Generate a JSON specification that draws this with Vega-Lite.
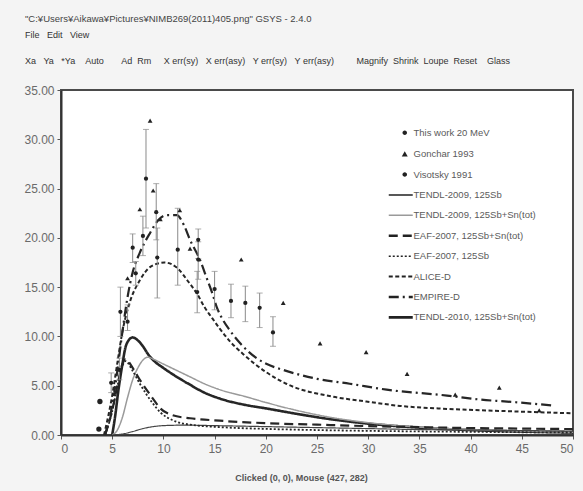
{
  "$schema": "https://vega.github.io/schema/vega-lite/v6.json",
  "autosize": {"type": "none"},
  "width": 512,
  "height": 345,
  "padding": {"left": 61, "top": 90, "right": 10, "bottom": 56},
  "background": "#f4f4f4",
  "title": {
    "text": "\"C:¥Users¥Aikawa¥Pictures¥NIMB269(2011)405.png\" GSYS - 2.4.0",
    "subtitle": ["File\u00a0\u00a0\u00a0Edit\u00a0\u00a0\u00a0View", "\u00a0Xa\u00a0\u00a0\u00a0Ya\u00a0\u00a0\u00a0*Ya\u00a0\u00a0\u00a0\u00a0Auto\u00a0\u00a0\u00a0\u00a0\u00a0\u00a0\u00a0Ad\u00a0\u00a0Rm\u00a0\u00a0\u00a0\u00a0\u00a0X err(sy)\u00a0\u00a0\u00a0X err(asy)\u00a0\u00a0\u00a0Y err(sy)\u00a0\u00a0\u00a0Y err(asy)\u00a0\u00a0\u00a0\u00a0\u00a0\u00a0\u00a0\u00a0\u00a0Magnify\u00a0\u00a0Shrink\u00a0\u00a0Loupe\u00a0\u00a0Reset\u00a0\u00a0\u00a0\u00a0Glass"],
    "anchor": "start",
    "frame": "group",
    "dx": -36,
    "offset": 18,
    "font": "Liberation Sans",
    "fontSize": 9.5,
    "fontWeight": "normal",
    "color": "#444",
    "subtitleFont": "Liberation Sans",
    "subtitleFontSize": 9,
    "subtitleColor": "#333",
    "subtitlePadding": 8,
    "subtitleLineHeight": 26
  },
  "datasets": {
    "curves": [
      {"series": "TENDL-2010, 125Sb+Sn(tot)", "x": 5.0, "y": 0},
      {"series": "TENDL-2010, 125Sb+Sn(tot)", "x": 5.3, "y": 2.0},
      {"series": "TENDL-2010, 125Sb+Sn(tot)", "x": 5.6, "y": 4.5},
      {"series": "TENDL-2010, 125Sb+Sn(tot)", "x": 6.0, "y": 7.2},
      {"series": "TENDL-2010, 125Sb+Sn(tot)", "x": 6.3, "y": 8.9},
      {"series": "TENDL-2010, 125Sb+Sn(tot)", "x": 6.6, "y": 9.6},
      {"series": "TENDL-2010, 125Sb+Sn(tot)", "x": 7.0, "y": 9.9},
      {"series": "TENDL-2010, 125Sb+Sn(tot)", "x": 7.5, "y": 9.6},
      {"series": "TENDL-2010, 125Sb+Sn(tot)", "x": 8.0, "y": 9.0},
      {"series": "TENDL-2010, 125Sb+Sn(tot)", "x": 8.5, "y": 8.2},
      {"series": "TENDL-2010, 125Sb+Sn(tot)", "x": 9.0, "y": 7.6},
      {"series": "TENDL-2010, 125Sb+Sn(tot)", "x": 10.0, "y": 6.8},
      {"series": "TENDL-2010, 125Sb+Sn(tot)", "x": 11.0, "y": 6.1},
      {"series": "TENDL-2010, 125Sb+Sn(tot)", "x": 12.6, "y": 5.1},
      {"series": "TENDL-2010, 125Sb+Sn(tot)", "x": 14.0, "y": 4.3},
      {"series": "TENDL-2010, 125Sb+Sn(tot)", "x": 15.5, "y": 3.7},
      {"series": "TENDL-2010, 125Sb+Sn(tot)", "x": 18.0, "y": 3.05},
      {"series": "TENDL-2010, 125Sb+Sn(tot)", "x": 20.0, "y": 2.7},
      {"series": "TENDL-2010, 125Sb+Sn(tot)", "x": 23.0, "y": 2.15},
      {"series": "TENDL-2010, 125Sb+Sn(tot)", "x": 26.0, "y": 1.65},
      {"series": "TENDL-2010, 125Sb+Sn(tot)", "x": 30.0, "y": 1.15},
      {"series": "TENDL-2010, 125Sb+Sn(tot)", "x": 35.0, "y": 0.75},
      {"series": "TENDL-2010, 125Sb+Sn(tot)", "x": 40.0, "y": 0.5},
      {"series": "TENDL-2010, 125Sb+Sn(tot)", "x": 45.0, "y": 0.35},
      {"series": "TENDL-2010, 125Sb+Sn(tot)", "x": 50.0, "y": 0.25},

      {"series": "TENDL-2009, 125Sb+Sn(tot)", "x": 5.0, "y": 0},
      {"series": "TENDL-2009, 125Sb+Sn(tot)", "x": 5.5, "y": 0.5},
      {"series": "TENDL-2009, 125Sb+Sn(tot)", "x": 6.0, "y": 1.8},
      {"series": "TENDL-2009, 125Sb+Sn(tot)", "x": 6.5, "y": 3.8},
      {"series": "TENDL-2009, 125Sb+Sn(tot)", "x": 7.0, "y": 5.6},
      {"series": "TENDL-2009, 125Sb+Sn(tot)", "x": 7.5, "y": 6.8},
      {"series": "TENDL-2009, 125Sb+Sn(tot)", "x": 8.0, "y": 7.6},
      {"series": "TENDL-2009, 125Sb+Sn(tot)", "x": 8.5, "y": 7.9},
      {"series": "TENDL-2009, 125Sb+Sn(tot)", "x": 9.0, "y": 7.7},
      {"series": "TENDL-2009, 125Sb+Sn(tot)", "x": 10.0, "y": 7.2},
      {"series": "TENDL-2009, 125Sb+Sn(tot)", "x": 11.0, "y": 6.7},
      {"series": "TENDL-2009, 125Sb+Sn(tot)", "x": 12.6, "y": 5.9},
      {"series": "TENDL-2009, 125Sb+Sn(tot)", "x": 14.0, "y": 5.2},
      {"series": "TENDL-2009, 125Sb+Sn(tot)", "x": 15.5, "y": 4.6},
      {"series": "TENDL-2009, 125Sb+Sn(tot)", "x": 18.0, "y": 3.9},
      {"series": "TENDL-2009, 125Sb+Sn(tot)", "x": 20.0, "y": 3.3},
      {"series": "TENDL-2009, 125Sb+Sn(tot)", "x": 23.0, "y": 2.5},
      {"series": "TENDL-2009, 125Sb+Sn(tot)", "x": 26.0, "y": 1.85},
      {"series": "TENDL-2009, 125Sb+Sn(tot)", "x": 30.0, "y": 1.25},
      {"series": "TENDL-2009, 125Sb+Sn(tot)", "x": 35.0, "y": 0.8},
      {"series": "TENDL-2009, 125Sb+Sn(tot)", "x": 40.0, "y": 0.55},
      {"series": "TENDL-2009, 125Sb+Sn(tot)", "x": 45.0, "y": 0.38},
      {"series": "TENDL-2009, 125Sb+Sn(tot)", "x": 50.0, "y": 0.27},

      {"series": "TENDL-2009, 125Sb", "x": 5.0, "y": 0},
      {"series": "TENDL-2009, 125Sb", "x": 6.0, "y": 0.1},
      {"series": "TENDL-2009, 125Sb", "x": 7.0, "y": 0.35},
      {"series": "TENDL-2009, 125Sb", "x": 8.0, "y": 0.65},
      {"series": "TENDL-2009, 125Sb", "x": 9.0, "y": 0.85},
      {"series": "TENDL-2009, 125Sb", "x": 10.0, "y": 0.95},
      {"series": "TENDL-2009, 125Sb", "x": 12.0, "y": 1.0},
      {"series": "TENDL-2009, 125Sb", "x": 15.0, "y": 0.95},
      {"series": "TENDL-2009, 125Sb", "x": 20.0, "y": 0.85},
      {"series": "TENDL-2009, 125Sb", "x": 25.0, "y": 0.75},
      {"series": "TENDL-2009, 125Sb", "x": 30.0, "y": 0.65},
      {"series": "TENDL-2009, 125Sb", "x": 35.0, "y": 0.55},
      {"series": "TENDL-2009, 125Sb", "x": 40.0, "y": 0.5},
      {"series": "TENDL-2009, 125Sb", "x": 45.0, "y": 0.45},
      {"series": "TENDL-2009, 125Sb", "x": 50.0, "y": 0.4},

      {"series": "EAF-2007, 125Sb+Sn(tot)", "x": 4.3, "y": 0},
      {"series": "EAF-2007, 125Sb+Sn(tot)", "x": 5.0, "y": 2.5},
      {"series": "EAF-2007, 125Sb+Sn(tot)", "x": 5.5, "y": 5.0},
      {"series": "EAF-2007, 125Sb+Sn(tot)", "x": 6.0, "y": 7.2},
      {"series": "EAF-2007, 125Sb+Sn(tot)", "x": 6.3, "y": 7.7},
      {"series": "EAF-2007, 125Sb+Sn(tot)", "x": 7.0, "y": 6.8},
      {"series": "EAF-2007, 125Sb+Sn(tot)", "x": 7.7, "y": 5.6},
      {"series": "EAF-2007, 125Sb+Sn(tot)", "x": 8.9, "y": 3.8},
      {"series": "EAF-2007, 125Sb+Sn(tot)", "x": 9.7, "y": 2.7},
      {"series": "EAF-2007, 125Sb+Sn(tot)", "x": 10.9, "y": 2.0},
      {"series": "EAF-2007, 125Sb+Sn(tot)", "x": 12.6, "y": 1.7},
      {"series": "EAF-2007, 125Sb+Sn(tot)", "x": 15.5, "y": 1.45},
      {"series": "EAF-2007, 125Sb+Sn(tot)", "x": 20.0, "y": 1.2},
      {"series": "EAF-2007, 125Sb+Sn(tot)", "x": 25.0, "y": 1.05},
      {"series": "EAF-2007, 125Sb+Sn(tot)", "x": 30.0, "y": 0.9},
      {"series": "EAF-2007, 125Sb+Sn(tot)", "x": 35.0, "y": 0.8},
      {"series": "EAF-2007, 125Sb+Sn(tot)", "x": 40.0, "y": 0.7},
      {"series": "EAF-2007, 125Sb+Sn(tot)", "x": 45.0, "y": 0.65},
      {"series": "EAF-2007, 125Sb+Sn(tot)", "x": 50.0, "y": 0.6},

      {"series": "EAF-2007, 125Sb", "x": 4.3, "y": 0},
      {"series": "EAF-2007, 125Sb", "x": 5.0, "y": 2.4},
      {"series": "EAF-2007, 125Sb", "x": 5.5, "y": 4.9},
      {"series": "EAF-2007, 125Sb", "x": 6.0, "y": 7.0},
      {"series": "EAF-2007, 125Sb", "x": 6.3, "y": 7.5},
      {"series": "EAF-2007, 125Sb", "x": 7.0, "y": 6.5},
      {"series": "EAF-2007, 125Sb", "x": 7.7, "y": 5.2},
      {"series": "EAF-2007, 125Sb", "x": 8.9, "y": 3.3},
      {"series": "EAF-2007, 125Sb", "x": 9.7, "y": 2.3},
      {"series": "EAF-2007, 125Sb", "x": 10.9, "y": 1.5},
      {"series": "EAF-2007, 125Sb", "x": 12.6, "y": 1.05},
      {"series": "EAF-2007, 125Sb", "x": 15.5, "y": 0.8},
      {"series": "EAF-2007, 125Sb", "x": 20.0, "y": 0.62},
      {"series": "EAF-2007, 125Sb", "x": 25.0, "y": 0.5},
      {"series": "EAF-2007, 125Sb", "x": 30.0, "y": 0.42},
      {"series": "EAF-2007, 125Sb", "x": 35.0, "y": 0.36},
      {"series": "EAF-2007, 125Sb", "x": 40.0, "y": 0.32},
      {"series": "EAF-2007, 125Sb", "x": 45.0, "y": 0.28},
      {"series": "EAF-2007, 125Sb", "x": 50.0, "y": 0.25},

      {"series": "ALICE-D", "x": 4.2, "y": 0},
      {"series": "ALICE-D", "x": 5.0, "y": 4.0},
      {"series": "ALICE-D", "x": 5.5, "y": 7.3},
      {"series": "ALICE-D", "x": 6.0, "y": 10.5},
      {"series": "ALICE-D", "x": 6.7, "y": 13.4},
      {"series": "ALICE-D", "x": 7.7, "y": 15.7},
      {"series": "ALICE-D", "x": 8.8, "y": 17.1},
      {"series": "ALICE-D", "x": 10.1, "y": 17.5},
      {"series": "ALICE-D", "x": 11.4, "y": 16.9},
      {"series": "ALICE-D", "x": 12.4, "y": 15.6},
      {"series": "ALICE-D", "x": 13.3, "y": 14.3},
      {"series": "ALICE-D", "x": 14.0, "y": 13.0},
      {"series": "ALICE-D", "x": 14.8, "y": 11.8},
      {"series": "ALICE-D", "x": 15.5, "y": 10.8},
      {"series": "ALICE-D", "x": 16.5, "y": 9.5},
      {"series": "ALICE-D", "x": 17.8, "y": 8.2},
      {"series": "ALICE-D", "x": 20.0, "y": 6.4},
      {"series": "ALICE-D", "x": 22.0, "y": 5.2},
      {"series": "ALICE-D", "x": 26.5, "y": 3.9},
      {"series": "ALICE-D", "x": 29.8, "y": 3.4},
      {"series": "ALICE-D", "x": 33.1, "y": 2.95},
      {"series": "ALICE-D", "x": 37.7, "y": 2.65},
      {"series": "ALICE-D", "x": 44.1, "y": 2.4},
      {"series": "ALICE-D", "x": 50.0, "y": 2.2},

      {"series": "EMPIRE-D", "x": 4.3, "y": 0},
      {"series": "EMPIRE-D", "x": 5.0, "y": 3.0},
      {"series": "EMPIRE-D", "x": 5.5, "y": 6.5},
      {"series": "EMPIRE-D", "x": 6.0, "y": 10.5},
      {"series": "EMPIRE-D", "x": 6.5, "y": 14.0},
      {"series": "EMPIRE-D", "x": 7.0, "y": 16.5},
      {"series": "EMPIRE-D", "x": 7.7, "y": 18.5},
      {"series": "EMPIRE-D", "x": 8.7, "y": 20.5},
      {"series": "EMPIRE-D", "x": 9.5, "y": 21.8},
      {"series": "EMPIRE-D", "x": 10.3, "y": 22.3},
      {"series": "EMPIRE-D", "x": 11.3, "y": 22.3},
      {"series": "EMPIRE-D", "x": 12.0, "y": 21.3},
      {"series": "EMPIRE-D", "x": 12.6, "y": 19.8},
      {"series": "EMPIRE-D", "x": 13.6, "y": 17.7},
      {"series": "EMPIRE-D", "x": 14.2, "y": 16.0},
      {"series": "EMPIRE-D", "x": 14.8, "y": 14.3},
      {"series": "EMPIRE-D", "x": 15.2, "y": 13.0},
      {"series": "EMPIRE-D", "x": 15.8, "y": 11.7},
      {"series": "EMPIRE-D", "x": 16.5, "y": 10.6},
      {"series": "EMPIRE-D", "x": 17.5, "y": 9.3},
      {"series": "EMPIRE-D", "x": 19.1, "y": 7.8},
      {"series": "EMPIRE-D", "x": 20.1, "y": 7.2},
      {"series": "EMPIRE-D", "x": 21.7, "y": 6.6},
      {"series": "EMPIRE-D", "x": 25.0, "y": 5.7},
      {"series": "EMPIRE-D", "x": 28.2, "y": 5.2},
      {"series": "EMPIRE-D", "x": 31.8, "y": 4.6},
      {"series": "EMPIRE-D", "x": 37.7, "y": 4.0},
      {"series": "EMPIRE-D", "x": 40.9, "y": 3.6},
      {"series": "EMPIRE-D", "x": 44.1, "y": 3.35},
      {"series": "EMPIRE-D", "x": 48.0, "y": 3.0}
    ],
    "exp": [
      {"series": "This work 20 MeV", "x": 4.9, "y": 5.3, "lo": 4.3, "hi": 6.3},
      {"series": "This work 20 MeV", "x": 5.7, "y": 6.6, "lo": 5.6, "hi": 7.8},
      {"series": "This work 20 MeV", "x": 5.8, "y": 12.5, "lo": 10.0, "hi": 15.0},
      {"series": "This work 20 MeV", "x": 6.5, "y": 11.5, "lo": 10.6, "hi": 13.2},
      {"series": "This work 20 MeV", "x": 7.0, "y": 19.0, "lo": 17.5, "hi": 20.4},
      {"series": "This work 20 MeV", "x": 7.3, "y": 16.4, "lo": 15.2, "hi": 17.6},
      {"series": "This work 20 MeV", "x": 8.0, "y": 20.2, "lo": 18.2, "hi": 22.2},
      {"series": "This work 20 MeV", "x": 8.3, "y": 26.0, "lo": 21.0, "hi": 31.0},
      {"series": "This work 20 MeV", "x": 9.3, "y": 22.6, "lo": 19.8, "hi": 25.5},
      {"series": "This work 20 MeV", "x": 9.4, "y": 18.0, "lo": 13.9, "hi": 21.0},
      {"series": "This work 20 MeV", "x": 11.4, "y": 18.8, "lo": 15.2, "hi": 23.0},
      {"series": "This work 20 MeV", "x": 13.4, "y": 19.8, "lo": 17.9, "hi": 20.9},
      {"series": "This work 20 MeV", "x": 13.4, "y": 17.8, "lo": 15.8, "hi": 19.6},
      {"series": "This work 20 MeV", "x": 13.3, "y": 14.5, "lo": 12.4, "hi": 16.6},
      {"series": "This work 20 MeV", "x": 15.0, "y": 14.8, "lo": 12.7, "hi": 16.6},
      {"series": "This work 20 MeV", "x": 16.6, "y": 13.6, "lo": 11.9, "hi": 15.3},
      {"series": "This work 20 MeV", "x": 18.0, "y": 13.4, "lo": 11.5, "hi": 15.1},
      {"series": "This work 20 MeV", "x": 19.4, "y": 12.9, "lo": 10.9, "hi": 14.4},
      {"series": "This work 20 MeV", "x": 20.7, "y": 10.4, "lo": 9.0, "hi": 12.0},
      {"series": "Gonchar 1993", "x": 6.5, "y": 15.9},
      {"series": "Gonchar 1993", "x": 7.7, "y": 22.9},
      {"series": "Gonchar 1993", "x": 8.7, "y": 31.9},
      {"series": "Gonchar 1993", "x": 9.0, "y": 24.8},
      {"series": "Gonchar 1993", "x": 9.7, "y": 21.9},
      {"series": "Gonchar 1993", "x": 11.6, "y": 22.8},
      {"series": "Gonchar 1993", "x": 12.6, "y": 18.9},
      {"series": "Gonchar 1993", "x": 17.6, "y": 17.8},
      {"series": "Gonchar 1993", "x": 21.7, "y": 13.4},
      {"series": "Gonchar 1993", "x": 25.3, "y": 9.3},
      {"series": "Gonchar 1993", "x": 29.8, "y": 8.4},
      {"series": "Gonchar 1993", "x": 33.8, "y": 6.2},
      {"series": "Gonchar 1993", "x": 38.5, "y": 4.1},
      {"series": "Gonchar 1993", "x": 42.8, "y": 4.8},
      {"series": "Gonchar 1993", "x": 46.7, "y": 2.5},
      {"series": "Visotsky 1991", "x": 3.7, "y": 0.6},
      {"series": "Visotsky 1991", "x": 3.8, "y": 3.4}
    ]
  },
  "layer": [
    {
      "data": {"name": "curves"},
      "mark": {"type": "line", "strokeCap": "butt", "clip": true, "interpolate": "monotone"},
      "encoding": {
        "x": {"field": "x", "type": "quantitative", "scale": {"domain": [0, 50], "nice": false},
          "axis": {"values": [0, 5, 10, 15, 20, 25, 30, 35, 40, 45, 50], "title": "Clicked (0, 0), Mouse (427, 282)",
            "titleX": 240, "titleY": 42, "titleBaseline": "middle", "titleFont": "Liberation Sans", "titleFontSize": 9, "titleFontWeight": "bold", "titleColor": "#555"}},
        "y": {"field": "y", "type": "quantitative", "scale": {"domain": [0, 35], "nice": false},
          "axis": {"values": [0, 5, 10, 15, 20, 25, 30, 35], "format": ".2f", "title": null}},
        "strokeDash": {"field": "series", "type": "nominal",
          "scale": {"domain": ["This work 20 MeV", "Gonchar 1993", "Visotsky 1991", "TENDL-2009, 125Sb", "TENDL-2009, 125Sb+Sn(tot)", "EAF-2007, 125Sb+Sn(tot)", "EAF-2007, 125Sb", "ALICE-D", "EMPIRE-D", "TENDL-2010, 125Sb+Sn(tot)"],
            "range": [[1, 0], [1, 0], [1, 0], [1, 0], [1, 0], [9, 5], [2, 2], [4, 2.5], [10, 4, 2, 4], [1, 0]]},
          "legend": {
            "title": null,
            "orient": "none",
            "legendX": 335,
            "legendY": 38,
            "symbolSize": 100,
            "symbolOpacity": 1,
            "symbolType": {"expr": "datum.value === 'Gonchar 1993' ? 'M0.8,-0.6L1.4,0.45L0.2,0.45Z' : ((datum.value === 'This work 20 MeV' || datum.value === 'Visotsky 1991') ? 'M0.35,0A0.45,0.45,0,1,0,1.25,0A0.45,0.45,0,1,0,0.35,0Z' : 'M-2.4,0H2.4')"},
            "symbolFillColor": {"expr": "indexof(['This work 20 MeV','Gonchar 1993','Visotsky 1991'], datum.value) >= 0 ? '#222' : 'transparent'"},
            "symbolStrokeColor": {"expr": "indexof(['This work 20 MeV','Gonchar 1993','Visotsky 1991'], datum.value) >= 0 ? 'transparent' : (datum.value === 'TENDL-2009, 125Sb+Sn(tot)' ? '#9a9a9a' : '#222')"},
            "symbolStrokeWidth": {"expr": "datum.value === 'TENDL-2010, 125Sb+Sn(tot)' ? 2.6 : (datum.value === 'EAF-2007, 125Sb+Sn(tot)' || datum.value === 'EMPIRE-D' ? 2.4 : (datum.value === 'ALICE-D' ? 2 : 1.5))"},
            "labelFont": "Liberation Sans",
            "labelFontSize": 9.5,
            "labelColor": "#5a5a5a",
            "labelOffset": 8,
            "labelLimit": 300,
            "rowPadding": 9.4
          }
        },
        "color": {
          "condition": [
            {"test": "datum.series === 'TENDL-2009, 125Sb+Sn(tot)'", "value": "#9a9a9a"},
            {"test": "datum.series === 'TENDL-2009, 125Sb'", "value": "#444"}
          ],
          "value": "#262626"
        },
        "strokeWidth": {
          "condition": [
            {"test": "datum.series === 'TENDL-2010, 125Sb+Sn(tot)'", "value": 2.6},
            {"test": "datum.series === 'EAF-2007, 125Sb+Sn(tot)' || datum.series === 'EMPIRE-D'", "value": 2.2},
            {"test": "datum.series === 'ALICE-D'", "value": 2},
            {"test": "datum.series === 'EAF-2007, 125Sb'", "value": 1.8},
            {"test": "datum.series === 'TENDL-2009, 125Sb+Sn(tot)'", "value": 1.5}
          ],
          "value": 1.2
        }
      }
    },
    {
      "data": {"name": "exp"},
      "transform": [{"filter": "datum.series === 'This work 20 MeV'"}],
      "mark": {"type": "errorbar", "ticks": {"size": 6}, "color": "#8a8a8a", "thickness": 1},
      "encoding": {
        "x": {"field": "x", "type": "quantitative"},
        "y": {"field": "lo", "type": "quantitative"},
        "y2": {"field": "hi"}
      }
    },
    {
      "data": {"name": "exp"},
      "mark": {"type": "point", "filled": true, "opacity": 1, "color": "#222", "strokeWidth": 0},
      "encoding": {
        "x": {"field": "x", "type": "quantitative"},
        "y": {"field": "y", "type": "quantitative"},
        "shape": {"field": "series", "type": "nominal", "legend": null,
          "scale": {"domain": ["This work 20 MeV", "Gonchar 1993", "Visotsky 1991"], "range": ["circle", "triangle-up", "circle"]}},
        "size": {"field": "series", "type": "nominal", "legend": null,
          "scale": {"domain": ["This work 20 MeV", "Gonchar 1993", "Visotsky 1991"], "range": [18, 28, 16]}}
      }
    },
    {
      "mark": {"type": "text", "font": "Liberation Sans", "fontSize": 12.5, "fontWeight": "bold", "color": "#333", "align": "center", "baseline": "middle"},
      "encoding": {
        "x": {"datum": 18.9},
        "y": {"datum": 31.4},
        "text": {"value": "ⁿᵃᵗSn(d,x)¹²⁵Sb"}
      }
    }
  ],
  "config": {
    "view": {"stroke": "#4a4a4a", "strokeWidth": 2, "fill": "white"},
    "axis": {
      "grid": false,
      "labelFont": "Liberation Sans",
      "labelFontSize": 12,
      "labelColor": "#6a6a6a",
      "domainColor": "#333",
      "domainWidth": 2,
      "tickColor": "#555",
      "tickSize": 4,
      "labelPadding": 3
    },
    "axisX": {"labelPadding": 4}
  }
}
